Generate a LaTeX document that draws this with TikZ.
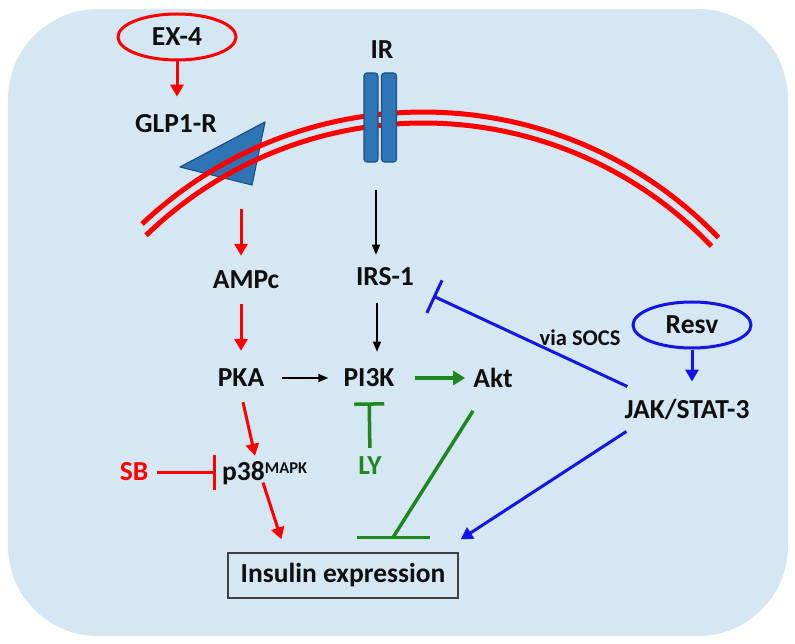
\documentclass[tikz,border=0pt]{standalone}
\usepackage{fontspec}
\setmainfont{Carlito}
\usetikzlibrary{shapes.geometric,arrows.meta,calc}
\definecolor{bgc}{RGB}{213,231,243}
\definecolor{mred}{RGB}{255,0,0}
\definecolor{mgreen}{RGB}{30,135,30}
\definecolor{mblue}{RGB}{20,20,230}
\definecolor{rblue}{RGB}{46,117,182}
\definecolor{rblueD}{RGB}{30,80,130}
\definecolor{txt}{RGB}{15,15,15}
\begin{document}
\begin{tikzpicture}[x=1pt,y=-1pt,
  lbl/.style={font=\bfseries\fontsize{27.5}{31}\selectfont, text=txt, inner sep=0pt},
  smalllbl/.style={font=\bfseries\fontsize{22.5}{25}\selectfont, text=txt, inner sep=0pt},
  oval/.style={ellipse, draw, line width=3pt, inner sep=0pt, minimum width=118pt, minimum height=46pt},
  redarr/.style={draw=mred, line width=3pt, -{Triangle[length=12pt,width=13pt]}},
  bluearr/.style={draw=mblue, line width=3pt, -{Triangle[length=12pt,width=13pt]}},
  blackarr/.style={draw=black, line width=1.4pt, -{Triangle[length=10pt,width=8pt]}},
  greenarr/.style={draw=mgreen, line width=4pt, -{Triangle[length=12pt,width=14pt]}},
  redinh/.style={draw=mred, line width=3pt, -{Bar[width=35pt]}},
  greeninh/.style={draw=mgreen, line width=3.5pt, -{Bar[width=30pt]}},
  blueinh/.style={draw=mblue, line width=3pt, -{Bar[width=36pt]}},
  membrane/.style={draw=mred, line width=5pt},
  recep/.style={fill=rblue, draw=rblueD, line width=1.2pt, line join=round}
]
\useasboundingbox (0,0) rectangle (795,644);
% cell background
\fill[bgc, rounded corners=90pt] (8,9) rectangle (788,636);

% GLP1 receptor triangle
\filldraw[recep] (180,167) -- (265,122) -- (252,185) -- cycle;

% membrane
\coordinate (mc) at (423.4,521.5);
\draw[membrane] (mc) ++(226.6:409.5) arc[start angle=226.6, end angle=316.1, radius=409.5];
\draw[membrane] (mc) ++(225.9:398.5) arc[start angle=225.9, end angle=316.3, radius=398.5];

% insulin receptor
\filldraw[recep, rounded corners=3pt] (364,73) rectangle (378,162);
\filldraw[recep, rounded corners=3pt] (381.5,73) rectangle (396.5,162);

% nodes
\node[oval, draw=mred, lbl] (ex4) at (177,37) {EX-4};
\node[lbl] (glp) at (176,124) {GLP1-R};
\node[lbl] (ir) at (382,50) {IR};
\node[lbl] (ampc) at (246,280) {AMPc};
\node[lbl] (pka) at (241,378) {PKA};
\node[lbl] (irs) at (385,277) {IRS-1};
\node[lbl] (pi3k) at (369,378) {PI3K};
\node[lbl] (akt) at (493,378) {Akt};
\node[lbl, text=mgreen] (ly) at (370,466) {LY};
\node[lbl, text=mred] (sb) at (134,472) {SB};
\node[lbl, anchor=base west] (p38) at (222,480) {p38\raisebox{7pt}{\fontsize{16.5}{16}\selectfont MAPK}};
\node[oval, draw=mblue, lbl] (resv) at (692,325) {Resv};
\node[lbl] (jak) at (687,409) {JAK/STAT-3};
\node[smalllbl] (socs) at (580,338) {via SOCS};
\node[lbl, draw=black!75, line width=1.2pt, fill=bgc, minimum width=230pt, minimum height=45pt] (ins) at (343,575.5) {Insulin expression};

\coordinate (gout) at (241,209);
\coordinate (irbot) at (376,190);

% connectors
\draw[redarr, shorten >=18pt] (ex4.south) -- (ex4.south |- glp.north);
\draw[redarr, shorten >=15pt] (gout) -- (gout |- ampc.north);
\draw[redarr, shorten <=15pt, shorten >=18pt] (pka.north |- ampc.south) -- (pka.north);
\draw[blackarr, shorten >=13pt] (irbot) -- (irbot |- irs.north);
\draw[blackarr, shorten <=17pt, shorten >=17pt] ([xshift=-8pt]irs.south) -- ([xshift=-8pt]irs.south |- pi3k.north);
\draw[blackarr, shorten <=18pt, shorten >=15pt] (pka.east) -- (pi3k.west);
\draw[greenarr, shorten <=20pt, shorten >=8pt] (pi3k.east) -- (akt.west);
\draw[greeninh, shorten <=9pt, shorten >=15pt] (ly.north) -- (pi3k.south);
\draw[mgreen, line width=3.5pt] ([xshift=-20pt,yshift=-23pt]akt.south) -- ([xshift=50pt,yshift=15pt]ins.north);
\draw[mgreen, line width=3.5pt] ([xshift=14pt,yshift=15pt]ins.north) -- ([xshift=87pt,yshift=15pt]ins.north);
\draw[bluearr] ([xshift=2pt,yshift=-12pt]jak.south west) -- ([xshift=2pt,yshift=13pt]ins.north east);
\draw[blueinh] ([xshift=3pt,yshift=12pt]jak.north west) -- ([xshift=19pt,yshift=-19pt]irs.east);
\draw[bluearr, shorten >=17pt] (resv.south) -- (resv.south |- jak.north);
\draw[redarr] ([xshift=2pt,yshift=-15pt]pka.south) -- ([xshift=33pt,yshift=5pt]p38.north west);
\draw[redarr] ([xshift=41pt,yshift=2pt]p38.south west) -- ([xshift=54pt,yshift=13pt]ins.north west);
\draw[redinh, shorten <=9pt, shorten >=6pt] (sb.east) -- (sb.east -| p38.west);
\end{tikzpicture}
\end{document}
